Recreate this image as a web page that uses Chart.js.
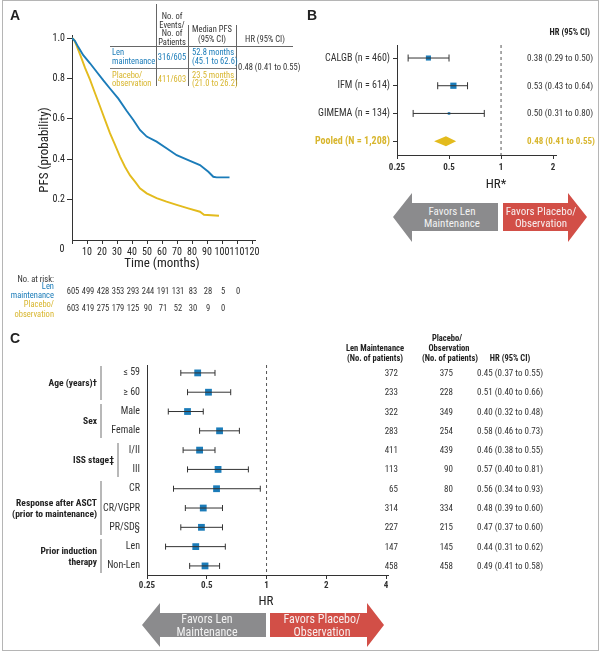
<!DOCTYPE html>
<html>
<head>
<meta charset="utf-8">
<script src="https://cdn.jsdelivr.net/npm/chart.js@4.4.1/dist/chart.umd.min.js"></script>
<style>
html, body { margin: 0; padding: 0; background: #fff; }
body { width: 600px; height: 654px; position: relative; overflow: hidden;
  font-family: "Liberation Sans Narrow", "Roboto Condensed", Roboto, "Liberation Sans", sans-serif; color: #222; }
canvas { position: absolute; }
.t { position: absolute; white-space: nowrap; line-height: 1; }
.ln { position: absolute; }
svg { position: absolute; left: 0; top: 0; }
</style>
</head>
<body>
<div style="position:absolute;left:2px;top:0;width:595px;height:649px;border:1px solid #b5b5b5;"></div>
<svg width="600" height="654">
  <polygon points="393,217 412,193 412,203 498,203 498,231 412,231 412,242" fill="#8b8b8d"/>
  <polygon points="503,203 568,203 568,193 587,217 568,242 568,231 503,231" fill="#d24f47"/>
  <polygon points="142,625 160,603 160,613 266,613 266,637 160,637 160,647" fill="#8b8b8d"/>
  <polygon points="270,613 367,613 367,603 384,625 367,647 367,637 270,637" fill="#d24f47"/>
</svg>
<canvas id="cA" width="270" height="270" style="left:0;top:0"></canvas>
<canvas id="cB" width="300" height="200" style="left:300px;top:0"></canvas>
<canvas id="cC" width="400" height="275" style="left:0;top:320px"></canvas>
<script>
var FONT = '"Liberation Sans Narrow", "Roboto Condensed", Roboto, "Liberation Sans", sans-serif';
var BLUE = '#1b7cb9';
var YELLOW = '#e3bb1d';
var YTXT = '#d8b62e';

// A: Kaplan-Meier PFS
var kmLenT = [0, 2, 4.2, 7.5, 12, 16.4, 20.9, 25.3, 30.9, 36.4, 40.9, 45.3, 49.8, 56.4, 63, 69.8, 77.5, 85.3, 90.9, 94.2, 96.4, 105];
var kmLenP = [1.0, 0.985, 0.955, 0.915, 0.875, 0.833, 0.79, 0.75, 0.70, 0.64, 0.594, 0.545, 0.512, 0.487, 0.454, 0.42, 0.396, 0.371, 0.338, 0.313, 0.31, 0.31];
var kmPboT = [0, 1.5, 3.2, 5.8, 8.7, 12, 15.3, 18.7, 22, 25.3, 28.7, 32, 35.3, 38.7, 42, 45.3, 49.8, 56.4, 63, 69.8, 77.5, 85.3, 88, 98];
var kmPboP = [1.0, 0.99, 0.96, 0.91, 0.852, 0.794, 0.728, 0.661, 0.595, 0.529, 0.471, 0.413, 0.363, 0.32, 0.289, 0.256, 0.231, 0.207, 0.19, 0.174, 0.157, 0.14, 0.125, 0.12];
var xTicksA = [0, 10, 20, 30, 40, 50, 60, 70, 80, 90, 100, 110, 120];
var yTicksA = [0.2, 0.4, 0.6, 0.8, 1.0];
var riskTimes = [0, 10, 20, 30, 40, 50, 60, 70, 80, 90, 100, 110];
var riskLen = [605, 499, 428, 353, 293, 244, 191, 131, 83, 28, 5, 0];
var riskPbo = [603, 419, 275, 179, 125, 90, 71, 52, 30, 9, 0];

// B: pooled analysis by study
var studyLabels = ['CALGB (n = 460)', 'IFM (n = 614)', 'GIMEMA (n = 134)', 'Pooled (N = 1,208)'];
var studyHR = [0.38, 0.53, 0.50, 0.48];
var studyLo = [0.29, 0.43, 0.31, 0.41];
var studyHi = [0.50, 0.64, 0.80, 0.55];
var studyText = ['0.38 (0.29 to 0.50)', '0.53 (0.43 to 0.64)', '0.50 (0.31 to 0.80)', '0.48 (0.41 to 0.55)'];
var xTicksB = [0.25, 0.5, 1, 2];

// C: subgroups
var subLabels = ['\u2264 59', '\u2265 60', 'Male', 'Female', 'I/II', 'III', 'CR', 'CR/VGPR', 'PR/SD\u00a7', 'Len', 'Non-Len'];
var subHR = [0.45, 0.51, 0.40, 0.58, 0.46, 0.57, 0.56, 0.48, 0.47, 0.44, 0.49];
var subLo = [0.37, 0.40, 0.32, 0.46, 0.38, 0.40, 0.34, 0.39, 0.37, 0.31, 0.41];
var subHi = [0.55, 0.66, 0.48, 0.73, 0.55, 0.81, 0.93, 0.60, 0.60, 0.62, 0.58];
var subNLen = [372, 233, 322, 283, 411, 113, 65, 314, 227, 147, 458];
var subNPbo = [375, 228, 349, 254, 439, 90, 80, 334, 215, 145, 458];
var xTicksC = [0.25, 0.5, 1, 2, 4];
var groupNames = [['Age (years)\u2020'], ['Sex'], ['ISS stage\u2021'], ['Response after ASCT', '(prior to maintenance)'], ['Prior induction', 'therapy']];
var groupFrom = [0, 2, 4, 6, 9];
var groupTo = [1, 3, 5, 8, 10];

// marker sizes (style)
var radB = [3.6, 4.4, 1.8];
var radC = 4.8;

Chart.defaults.font.family = FONT;
Chart.defaults.color = '#222';
Chart.defaults.animation = false;
Chart.defaults.events = [];
Chart.defaults.plugins.legend.display = false;
Chart.defaults.plugins.tooltip.enabled = false;

function txt(s, x, y, o) {
  o = o || {};
  var d = document.createElement('div');
  d.className = 't';
  d.textContent = s;
  d.style.left = x + 'px';
  d.style.top = y + 'px';
  d.style.fontSize = (o.size || 9) + 'px';
  if (o.bold) d.style.fontWeight = 'bold';
  if (o.family) d.style.fontFamily = o.family;
  d.style.color = o.color || '#222';
  var tx = o.align == 'r' ? '-100%' : (o.align == 'c' ? '-50%' : '0');
  d.style.transform = 'translate(' + tx + ',-50%)' + (o.rot ? ' rotate(' + o.rot + 'deg)' : '');
  document.body.appendChild(d);
}
function rect(x, y, w, h, color) {
  var d = document.createElement('div');
  d.className = 'ln';
  d.style.left = x + 'px'; d.style.top = y + 'px';
  d.style.width = w + 'px'; d.style.height = h + 'px';
  d.style.background = color;
  document.body.appendChild(d);
}

function axisStyle() {
  return {
    grid: { drawOnChartArea: false, drawTicks: true, tickLength: 4, color: '#333' },
    border: { display: true, color: '#333', width: 1 }
  };
}

// ---------- panel A ----------
var ayx = axisStyle(), ayy = axisStyle();
var chartA = new Chart(document.getElementById('cA'), {
  type: 'scatter',
  data: {
    datasets: [
      { data: kmLenT.map(function (t, i) { return { x: t, y: kmLenP[i] }; }), showLine: true, borderColor: BLUE, borderWidth: 1.9, pointRadius: 0 },
      { data: kmPboT.map(function (t, i) { return { x: t, y: kmPboP[i] }; }), showLine: true, borderColor: YELLOW, borderWidth: 1.9, pointRadius: 0 }
    ]
  },
  options: {
    responsive: false,
    layout: { padding: { top: 35, right: 15, left: 0, bottom: 0 } },
    scales: {
      x: {
        type: 'linear', min: 0, max: 122,
        afterBuildTicks: function (s) { s.ticks = xTicksA.map(function (v) { return { value: v }; }); },
        afterFit: function (s) { s.height = 30; },
        ticks: { callback: function (v) { return v === 0 ? '' : String(v); }, font: { size: 10 }, color: '#222', padding: 2, maxRotation: 0, autoSkip: false },
        grid: ayx.grid, border: ayx.border
      },
      y: {
        type: 'linear', min: 0, max: 1.015,
        afterBuildTicks: function (s) { s.ticks = yTicksA.map(function (v) { return { value: v }; }); },
        afterFit: function (s) { s.width = 72; },
        ticks: { callback: function (v) { return v.toFixed(1); }, font: { size: 10 }, color: '#222', padding: 2 },
        grid: { drawOnChartArea: false, tickLength: 5, color: '#333' }, border: ayy.border
      }
    }
  }
});

// ---------- panel B ----------
var pooledDiamond = {
  id: 'pooledDiamond',
  afterDatasetsDraw: function (chart) {
    var xs = chart.scales.x, ys = chart.scales.y, c = chart.ctx, i = 3;
    var yc = ys.getPixelForValue(i);
    c.save();
    c.fillStyle = YELLOW;
    c.beginPath();
    c.moveTo(xs.getPixelForValue(studyLo[i]), yc);
    c.lineTo(xs.getPixelForValue(studyHR[i]), yc - 5);
    c.lineTo(xs.getPixelForValue(studyHi[i]), yc);
    c.lineTo(xs.getPixelForValue(studyHR[i]), yc + 5);
    c.closePath();
    c.fill();
    c.restore();
  }
};

var dsB = [{ data: [{ x: 1, y: -0.47 }, { x: 1, y: 3.5 }], showLine: true, borderColor: '#555', borderWidth: 1, borderDash: [3, 3], pointRadius: 0 }];
for (var i = 0; i < 3; i++) {
  dsB.push({ data: [{ x: studyLo[i], y: i }, { x: studyHi[i], y: i }], showLine: true, borderColor: '#333', borderWidth: 1,
    pointStyle: 'line', pointRotation: 90, pointRadius: 3.5, pointBorderColor: '#333', pointBorderWidth: 1 });
}
dsB.push({ data: [0, 1, 2].map(function (i) { return { x: studyHR[i], y: i }; }), pointStyle: 'rect', pointRadius: radB,
  backgroundColor: BLUE, pointBorderWidth: 0, borderWidth: 0 });

var bx = axisStyle(), by = axisStyle();
var chartB = new Chart(document.getElementById('cB'), {
  type: 'scatter',
  data: { datasets: dsB },
  plugins: [pooledDiamond],
  options: {
    responsive: false,
    layout: { padding: { top: 45, right: 44, left: 0, bottom: 0 } },
    scales: {
      x: {
        type: 'logarithmic', min: 0.25, max: 2.08,
        afterBuildTicks: function (s) { s.ticks = xTicksB.map(function (v) { return { value: v }; }); },
        afterFit: function (s) { s.height = 45; },
        ticks: { callback: function (v) { return String(v); }, font: { size: 9, weight: 'bold' }, color: '#333', padding: 3, maxRotation: 0, autoSkip: false },
        grid: bx.grid, border: bx.border
      },
      y: {
        type: 'linear', min: -0.47, max: 3.5, reverse: true,
        afterBuildTicks: function (s) { s.ticks = [0, 1, 2, 3].map(function (v) { return { value: v }; }); },
        afterFit: function (s) { s.width = 97; },
        ticks: {
          callback: function (v) { return studyLabels[v]; },
          font: function (ctx) { return { size: 10, weight: ctx.index === 3 ? 'bold' : 'normal' }; },
          color: function (ctx) { return ctx.index === 3 ? YTXT : '#333'; },
          padding: 3, autoSkip: false
        },
        grid: { drawOnChartArea: false, tickLength: 4, color: '#333' }, border: by.border
      }
    }
  }
});

// ---------- panel C ----------
var dsC = [{ data: [{ x: 1, y: -0.41 }, { x: 1, y: 10.47 }], showLine: true, borderColor: '#555', borderWidth: 1, borderDash: [3, 3], pointRadius: 0 }];
for (var j = 0; j < subHR.length; j++) {
  dsC.push({ data: [{ x: subLo[j], y: j }, { x: subHi[j], y: j }], showLine: true, borderColor: '#333', borderWidth: 1,
    pointStyle: 'line', pointRotation: 90, pointRadius: 3, pointBorderColor: '#333', pointBorderWidth: 1 });
}
dsC.push({ data: subHR.map(function (v, i) { return { x: v, y: i }; }), pointStyle: 'rect', pointRadius: radC,
  backgroundColor: BLUE, pointBorderWidth: 0, borderWidth: 0 });

var cx = axisStyle(), cy = axisStyle();
var chartC = new Chart(document.getElementById('cC'), {
  type: 'scatter',
  data: { datasets: dsC },
  options: {
    responsive: false,
    layout: { padding: { top: 45, right: 12, left: 0, bottom: 0 } },
    scales: {
      x: {
        type: 'logarithmic', min: 0.25, max: 4.09,
        afterBuildTicks: function (s) { s.ticks = xTicksC.map(function (v) { return { value: v }; }); },
        afterFit: function (s) { s.height = 20; },
        ticks: { callback: function (v) { return String(v); }, font: { size: 9, weight: 'bold' }, color: '#333', padding: 1, maxRotation: 0, autoSkip: false },
        grid: cx.grid, border: cx.border
      },
      y: {
        type: 'linear', min: -0.41, max: 10.47, reverse: true,
        afterBuildTicks: function (s) { s.ticks = subLabels.map(function (v, i) { return { value: i }; }); },
        afterFit: function (s) { s.width = 147; },
        ticks: { callback: function (v) { return subLabels[v]; }, font: { size: 10 }, color: '#333', padding: 3, autoSkip: false },
        grid: { drawOnChartArea: false, tickLength: 4, color: 'rgba(0,0,0,0)' }, border: cy.border
      }
    }
  }
});

// ---------- text for A ----------
txt('A', 10, 15, { size: 14, bold: true, family: '"Liberation Sans", sans-serif' });
txt('PFS (probability)', 43, 150, { size: 13, align: 'c', rot: -90 });
txt('Time (months)', 162, 262, { size: 13, align: 'c' });
txt('0', 62, 249, { size: 10, align: 'c' });

var hdr = ['No. of', 'Events/', 'No. of', 'Patients'];
hdr.forEach(function (s, k) { txt(s, 172, 16 + k * 8.7, { size: 8.5, align: 'c', color: '#333' }); });
txt('Median PFS', 212, 29, { size: 8.5, align: 'c', color: '#333' });
txt('(95% CI)', 212, 39, { size: 8.5, align: 'c', color: '#333' });
txt('HR (95% CI)', 265, 39, { size: 8.5, align: 'c', color: '#333' });
rect(110, 46, 183, 1, '#666');
rect(110, 68, 126, 1, '#777');
rect(156, 4, 1, 82, '#666');
rect(188, 25, 1, 61, '#666');
rect(236, 25, 1, 61, '#666');
txt('Len', 112, 52, { size: 8.5, color: BLUE });
txt('maintenance', 112, 61, { size: 8.5, color: BLUE });
txt('316/605', 172, 57, { size: 8.5, align: 'c', color: BLUE });
txt('52.8 months', 192, 52, { size: 8.5, color: BLUE });
txt('(45.1 to 62.6)', 192, 61, { size: 8.5, color: BLUE });
txt('Placebo/', 112, 75, { size: 8.5, color: YTXT });
txt('observation', 112, 83, { size: 8.5, color: YTXT });
txt('411/603', 172, 79, { size: 8.5, align: 'c', color: YTXT });
txt('23.5 months', 192, 75, { size: 8.5, color: YTXT });
txt('(21.0 to 26.2)', 192, 83, { size: 8.5, color: YTXT });
txt('0.48 (0.41 to 0.55)', 238, 67, { size: 8.5, color: '#333' });

txt('No. at risk:', 54, 279, { size: 8.5, align: 'r', color: '#333' });
txt('Len', 54, 286, { size: 8.5, align: 'r', color: BLUE });
txt('maintenance', 54, 295, { size: 8.5, align: 'r', color: BLUE });
txt('Placebo/', 54, 304, { size: 8.5, align: 'r', color: YTXT });
txt('observation', 54, 314, { size: 8.5, align: 'r', color: YTXT });
riskLen.forEach(function (n, k) { txt(String(n), chartA.scales.x.getPixelForValue(riskTimes[k]) + 1, 291, { size: 8.5, align: 'c', color: '#333' }); });
riskPbo.forEach(function (n, k) { txt(String(n), chartA.scales.x.getPixelForValue(riskTimes[k]) + 1, 308, { size: 8.5, align: 'c', color: '#333' }); });

// ---------- text for B ----------
txt('B', 307, 15, { size: 14, bold: true, family: '"Liberation Sans", sans-serif' });
txt('HR (95% CI)', 590, 32, { size: 8.5, bold: true, align: 'r' });
studyText.forEach(function (s, k) {
  txt(s, 527, chartB.scales.y.getPixelForValue(k), { size: 9, bold: k === 3, color: k === 3 ? YTXT : '#333' });
});
txt('HR*', 496, 183, { size: 13, align: 'c' });
txt('Favors Len', 452, 211, { size: 11, align: 'c', color: '#f2f2f2' });
txt('Maintenance', 452, 223, { size: 11, align: 'c', color: '#f2f2f2' });
txt('Favors Placebo/', 541, 211, { size: 11, align: 'c', color: '#f7eeee' });
txt('Observation', 541, 223, { size: 11, align: 'c', color: '#f7eeee' });

// ---------- text for C ----------
txt('C', 10, 338, { size: 14, bold: true, family: '"Liberation Sans", sans-serif' });
txt('Len Maintenance', 375, 348, { size: 8.5, bold: true, align: 'c' });
txt('(No. of patients)', 375, 358, { size: 8.5, bold: true, align: 'c' });
txt('Placebo/', 447, 338, { size: 8.5, bold: true, align: 'c' });
txt('Observation', 449, 348, { size: 8.5, bold: true, align: 'c' });
txt('(No. of patients)', 450, 358, { size: 8.5, bold: true, align: 'c' });
txt('HR (95% CI)', 510, 358, { size: 8.5, bold: true, align: 'c' });
subHR.forEach(function (v, k) {
  var y = 320 + chartC.scales.y.getPixelForValue(k);
  txt(String(subNLen[k]), 398, y, { size: 9, align: 'r', color: '#333' });
  txt(String(subNPbo[k]), 453, y, { size: 9, align: 'r', color: '#333' });
  txt(v.toFixed(2) + ' (' + subLo[k].toFixed(2) + ' to ' + subHi[k].toFixed(2) + ')', 477, y, { size: 9, color: '#333' });
});
groupNames.forEach(function (lines, g) {
  var ys = chartC.scales.y;
  var y1 = 320 + ys.getPixelForValue(groupFrom[g] - 0.38);
  var y2 = 320 + ys.getPixelForValue(groupTo[g] + 0.38);
  var bx = g === 2 ? 117 : 100;
  rect(bx, y1, 1.5, y2 - y1, '#b8b8b8');
  var yc = (y1 + y2) / 2 - (lines.length - 1) * 5.5;
  lines.forEach(function (s, k) { txt(s, bx - 3, yc + k * 11, { size: 9.5, bold: true, align: 'r' }); });
});
txt('HR', 266, 600, { size: 13, align: 'c' });
txt('Favors Len', 207, 619, { size: 12, align: 'c', color: '#f2f2f2' });
txt('Maintenance', 207, 632, { size: 12, align: 'c', color: '#f2f2f2' });
txt('Favors Placebo/', 322, 619, { size: 12, align: 'c', color: '#f7eeee' });
txt('Observation', 322, 632, { size: 12, align: 'c', color: '#f7eeee' });
</script>
</body>
</html>
